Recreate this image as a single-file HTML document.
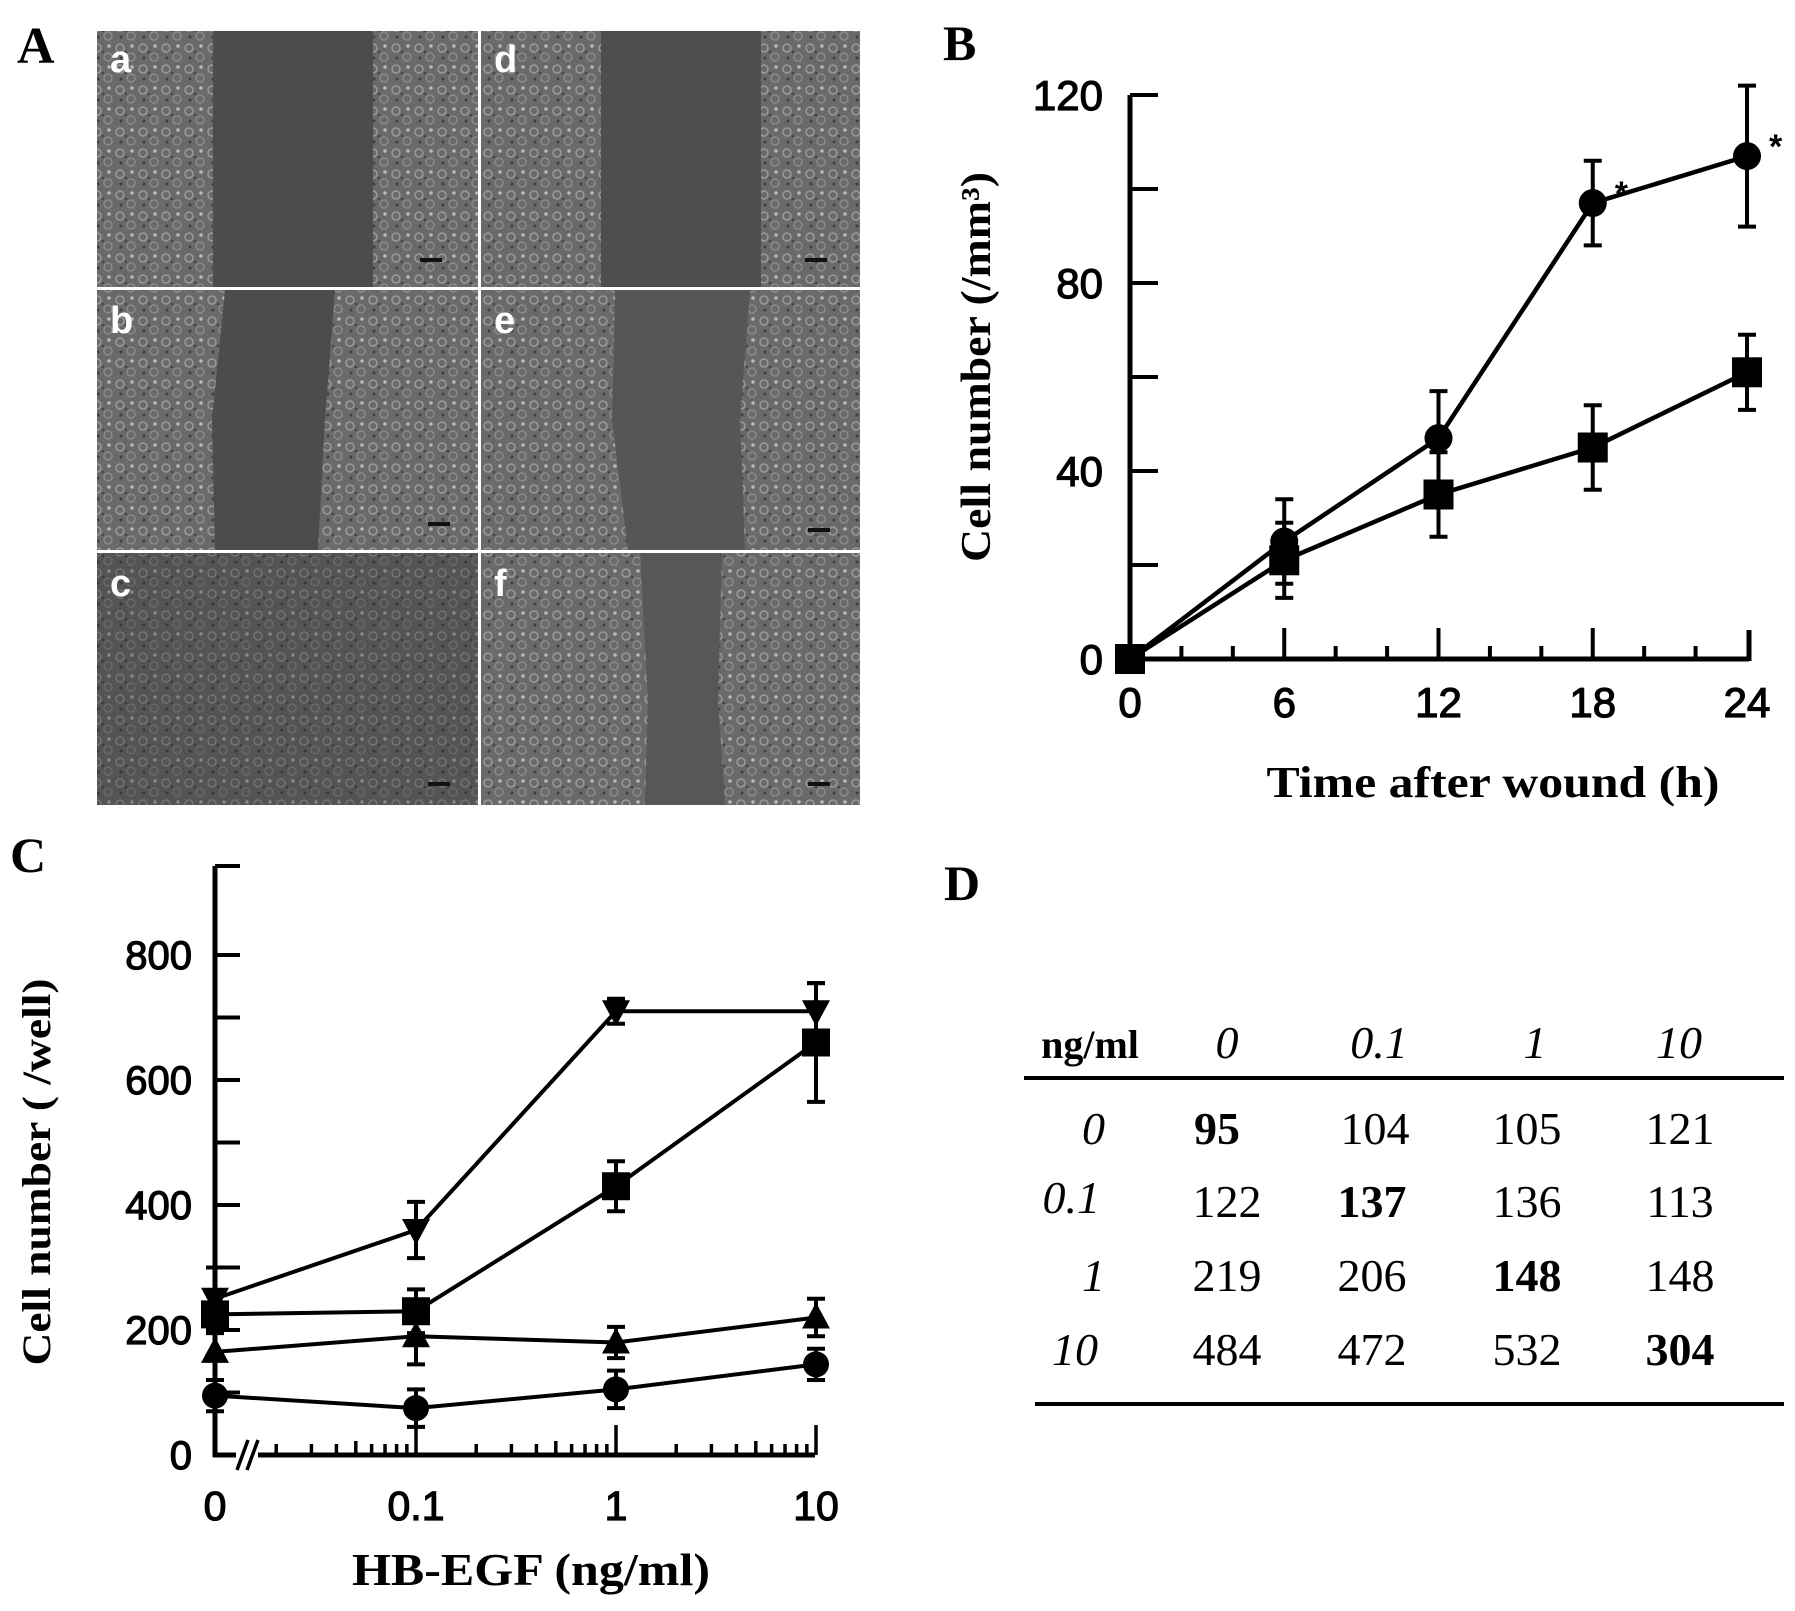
<!DOCTYPE html>
<html><head><meta charset="utf-8"><style>
html,body{margin:0;padding:0;background:#fff;}
svg{display:block;}
text{font-family:"Liberation Sans",sans-serif;}
.serif{font-family:"Liberation Serif",serif;}
.tick{stroke:#000;stroke-width:1.2;}
</style></head><body>
<svg id="fig" width="1795" height="1611" viewBox="0 0 1795 1611" xmlns="http://www.w3.org/2000/svg">
<defs>
<pattern id="cells" width="23" height="21" patternUnits="userSpaceOnUse">
<rect width="23" height="21" fill="#6a6a6a"/>
<circle cx="5" cy="6" r="4" fill="none" stroke="#9a9a9a" stroke-width="1.5"/>
<circle cx="16" cy="15" r="4" fill="none" stroke="#8a8a8a" stroke-width="1.5"/>
<circle cx="17" cy="4" r="1.8" fill="#b8b8b8"/>
<circle cx="6" cy="16" r="1.5" fill="#404040"/>
<circle cx="11" cy="10" r="1.3" fill="#454545"/>
</pattern>
</defs>

<!-- Panel A -->
<g>
<text x="17" y="63" class="serif" font-size="52" font-weight="bold">A</text>
<rect x="97" y="31" width="763" height="774" fill="#fff"/>
<g><rect x="97" y="31" width="381" height="256" fill="url(#cells)"/><rect x="213" y="31" width="160" height="256" fill="#4c4c4c"/><rect x="420" y="258" width="22" height="4" fill="#111"/><text x="110" y="72" font-size="38" font-weight="bold" fill="#fff">a</text></g>
<g><rect x="481" y="31" width="379" height="256" fill="url(#cells)"/><rect x="601" y="31" width="160" height="256" fill="#4e4e4e"/><rect x="805" y="258" width="22" height="4" fill="#111"/><text x="494" y="72" font-size="38" font-weight="bold" fill="#fff">d</text></g>
<g><rect x="97" y="290" width="381" height="260" fill="url(#cells)"/><path d="M225 290 L335 290 L325 420 L318 550 L215 550 L212 420 Z" fill="#4c4c4c"/><rect x="428" y="522" width="22" height="4" fill="#111"/><text x="110" y="333" font-size="38" font-weight="bold" fill="#fff">b</text></g>
<g><rect x="481" y="290" width="379" height="260" fill="url(#cells)"/><path d="M615 290 L750 290 L740 420 L745 550 L628 550 L612 420 Z" fill="#565656"/><rect x="808" y="528" width="22" height="4" fill="#111"/><text x="494" y="333" font-size="38" font-weight="bold" fill="#fff">e</text></g>
<g><rect x="97" y="553" width="381" height="252" fill="url(#cells)"/><rect x="97" y="553" width="381" height="252" fill="#2c2c2c" opacity="0.35"/><rect x="428" y="782" width="22" height="4" fill="#111"/><text x="110" y="596" font-size="38" font-weight="bold" fill="#fff">c</text></g>
<g><rect x="481" y="553" width="379" height="252" fill="url(#cells)"/><path d="M640 553 L722 553 L718 700 L725 805 L645 805 L648 700 Z" fill="#575757"/><rect x="808" y="782" width="22" height="4" fill="#111"/><text x="494" y="596" font-size="38" font-weight="bold" fill="#fff">f</text></g>
</g>

<!-- Panel B -->
<g id="pb">
<text x="943" y="60" class="serif" font-size="50" font-weight="bold">B</text>
<text x="1493" y="797" class="serif" font-size="44" font-weight="bold" text-anchor="middle" textLength="453" lengthAdjust="spacingAndGlyphs">Time after wound  (h)</text>
<text transform="translate(990,367) rotate(-90)" class="serif" font-size="42" font-weight="bold" text-anchor="middle" textLength="390" lengthAdjust="spacingAndGlyphs">Cell number (/mm³)</text>
</g>

<!-- Panel C -->
<g id="pc">
<text x="10" y="872" class="serif" font-size="50" font-weight="bold">C</text>
<text x="531" y="1585" class="serif" font-size="46" font-weight="bold" text-anchor="middle" textLength="358" lengthAdjust="spacingAndGlyphs">HB-EGF (ng/ml)</text>
<text transform="translate(50,1172) rotate(-90)" class="serif" font-size="40" font-weight="bold" text-anchor="middle" textLength="387" lengthAdjust="spacingAndGlyphs">Cell number ( /well)</text>
</g>

<!-- Panel D -->
<g class="serif">
<text x="944" y="900" class="serif" font-size="50" font-weight="bold">D</text>
<g font-size="46" text-anchor="middle">
<text x="1090" y="1058" font-weight="bold" font-size="40" class="serif">ng/ml</text>
<text x="1227" y="1058" font-style="italic" class="serif">0</text>
<text x="1379" y="1058" font-style="italic" class="serif">0.1</text>
<text x="1535" y="1058" font-style="italic" class="serif">1</text>
<text x="1679" y="1058" font-style="italic" class="serif">10</text>
<line x1="1024" y1="1078" x2="1784" y2="1078" stroke="#000" stroke-width="4"/>
<text x="1105" y="1144" font-style="italic" text-anchor="end" class="serif">0</text>
<text x="1100" y="1213" font-style="italic" text-anchor="end" class="serif">0.1</text>
<text x="1105" y="1291" font-style="italic" text-anchor="end" class="serif">1</text>
<text x="1098" y="1365" font-style="italic" text-anchor="end" class="serif">10</text>
<text x="1217" y="1144" font-weight="bold" class="serif">95</text>
<text x="1375" y="1144" class="serif">104</text>
<text x="1527" y="1144" class="serif">105</text>
<text x="1680" y="1144" class="serif">121</text>
<text x="1227" y="1217" class="serif">122</text>
<text x="1372" y="1217" font-weight="bold" class="serif">137</text>
<text x="1527" y="1217" class="serif">136</text>
<text x="1680" y="1217" class="serif">113</text>
<text x="1227" y="1291" class="serif">219</text>
<text x="1372" y="1291" class="serif">206</text>
<text x="1527" y="1291" font-weight="bold" class="serif">148</text>
<text x="1680" y="1291" class="serif">148</text>
<text x="1227" y="1365" class="serif">484</text>
<text x="1372" y="1365" class="serif">472</text>
<text x="1527" y="1365" class="serif">532</text>
<text x="1680" y="1365" font-weight="bold" class="serif">304</text>
<line x1="1035" y1="1404" x2="1784" y2="1404" stroke="#000" stroke-width="4"/>
</g>
</g>
</svg>
<script>
// Panel B data
const bTimes = [0, 6, 12, 18, 24];
const bCircle = [0, 25, 47, 97, 107];
const bCircleErr = [0, 9, 10, 9, 15];
const bSquare = [0, 21, 35, 45, 61];
const bSquareErr = [0, 8, 9, 9, 8];
const bYTicks = [0, 40, 80, 120];
const bXTicks = [0, 6, 12, 18, 24];
const bStars = [18, 24];
// Panel C data
const cDoses = [0, 0.1, 1, 10];
const cDoseLabels = ["0", "0.1", "1", "10"];
const cTriDown = [250, 360, 710, 710];
const cTriDownErr = [50, 45, 20, 45];
const cSquare = [225, 230, 430, 660];
const cSquareErr = [30, 35, 40, 95];
const cTriUp = [165, 190, 180, 220];
const cTriUpErr = [45, 45, 25, 30];
const cCircle = [95, 75, 105, 145];
const cCircleErr = [25, 30, 30, 25];
const cYTicks = [0, 200, 400, 600, 800];

const NS = "http://www.w3.org/2000/svg";
function mk(parent, tag, attrs) {
  const e = document.createElementNS(NS, tag);
  for (const k in attrs) e.setAttribute(k, attrs[k]);
  parent.appendChild(e);
  return e;
}
function line(p, x1, y1, x2, y2, w) { return mk(p, "line", {x1, y1, x2, y2, stroke: "#000", "stroke-width": w || 4}); }

// ---------- Panel B ----------
const pb = document.getElementById("pb");
const bx = t => 1130 + t * (1747 - 1130) / 24;
const by = v => 659 - v * (659 - 95) / 120;
let el = line(pb, 1130, 95, 1130, 661, 5);


el = line(pb, 1128, 659, 1749, 659, 5);


line(pb, 1749, 630, 1749, 661, 5);
for (let v = 0; v <= 120; v += 20) { if (v > 0) line(pb, 1130, by(v), 1158, by(v), 4); }
for (let t = 2; t <= 22; t += 2) { line(pb, bx(t), 659, bx(t), t % 6 === 0 ? 628 : 646, 4); }
bYTicks.forEach(v => {
  const t = mk(pb, "text", {x: 1103, y: by(v) + 15, "font-size": 42, "text-anchor": "end", class: "tick"});
  t.textContent = v;
  
  
});
bXTicks.forEach(v => {
  const t = mk(pb, "text", {x: bx(v), y: 717, "font-size": 42, "text-anchor": "middle", class: "tick"});
  t.textContent = v;
  
  
});
function seriesB(vals, errs, shape, name) {
  const pts = vals.map((v, i) => bx(bTimes[i]) + "," + by(v)).join(" ");
  const pl = mk(pb, "polyline", {points: pts, fill: "none", stroke: "#000", "stroke-width": 4.5});
  
  
  vals.forEach((v, i) => {
    const x = bx(bTimes[i]), y = by(v), e = errs[i];
    if (e > 0) {
      line(pb, x, by(v + e), x, by(v - e), 4);
      line(pb, x - 9, by(v + e), x + 9, by(v + e), 4);
      line(pb, x - 9, by(v - e), x + 9, by(v - e), 4);
    }
    let m;
    if (shape === "circle") m = mk(pb, "circle", {cx: x, cy: y, r: 14, fill: "#000"});
    else m = mk(pb, "rect", {x: x - 15, y: y - 15, width: 30, height: 30, fill: "#000"});
    
    
  });
}
seriesB(bSquare, bSquareErr, "square", "series-b-square");
seriesB(bCircle, bCircleErr, "circle", "series-b-circle");
bStars.forEach(t => {
  const i = bTimes.indexOf(t);
  const s = mk(pb, "text", {x: bx(t) + 22, y: by(bCircle[i]) + 2, "font-size": 34, "font-weight": "bold"});
  s.textContent = "*";
  
  
});

// ---------- Panel C ----------
const pc = document.getElementById("pc");
const cxPos = d => d === 0 ? 215 : 616 + 200 * Math.log10(d);
const cy = v => 1455 - v * (1455 - 955) / 800;
el = line(pc, 215, 866, 215, 1457, 5);


line(pc, 213, 1455, 236, 1455, 5);
el = line(pc, 258, 1455, 815, 1455, 5);


line(pc, 237, 1470, 248, 1440, 3.5);
line(pc, 247, 1470, 258, 1440, 3.5);
line(pc, 215, 866, 240, 866, 4);
for (let v = 100; v <= 800; v += 100) line(pc, 215, cy(v), 240, cy(v), 4);
[0.01, 0.1, 1].forEach(dec => {
  for (let k = 2; k <= 10; k++) {
    const x = cxPos(dec * k);
    line(pc, x, 1455, x, 1455 - (k === 10 ? 30 : (k === 5 ? 14 : 11)), 3.5);
  }
});
cYTicks.forEach(v => {
  const t = mk(pc, "text", {x: 192, y: cy(v) + 14, "font-size": 40, "text-anchor": "end", class: "tick"});
  t.textContent = v;
  
  
});
cDoses.forEach((d, i) => {
  const t = mk(pc, "text", {x: cxPos(d), y: 1520, "font-size": 41, "text-anchor": "middle", class: "tick"});
  t.textContent = cDoseLabels[i];
  
  
});
function seriesC(vals, errs, shape, name) {
  const pts = vals.map((v, i) => cxPos(cDoses[i]) + "," + cy(v)).join(" ");
  const pl = mk(pc, "polyline", {points: pts, fill: "none", stroke: "#000", "stroke-width": 4});
  
  
  vals.forEach((v, i) => {
    const x = cxPos(cDoses[i]), y = cy(v), e = errs[i];
    line(pc, x, cy(v + e), x, cy(v - e), 4);
    line(pc, x - 9, cy(v + e), x + 9, cy(v + e), 4);
    line(pc, x - 9, cy(v - e), x + 9, cy(v - e), 4);
    let m;
    if (shape === "circle") m = mk(pc, "circle", {cx: x, cy: y, r: 13, fill: "#000"});
    else if (shape === "square") m = mk(pc, "rect", {x: x - 14, y: y - 14, width: 28, height: 28, fill: "#000"});
    else if (shape === "up") m = mk(pc, "polygon", {points: `${x},${y-15} ${x-14},${y+11} ${x+14},${y+11}`, fill: "#000"});
    else m = mk(pc, "polygon", {points: `${x},${y+15} ${x-14},${y-11} ${x+14},${y-11}`, fill: "#000"});
    
    
  });
}
seriesC(cTriDown, cTriDownErr, "down", "series-c-triangle-down");
seriesC(cSquare, cSquareErr, "square", "series-c-square");
seriesC(cTriUp, cTriUpErr, "up", "series-c-triangle-up");
seriesC(cCircle, cCircleErr, "circle", "series-c-circle");
</script>
</body></html>
